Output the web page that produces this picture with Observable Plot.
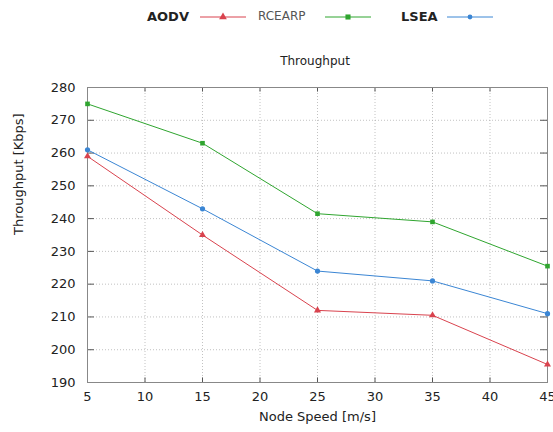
<!DOCTYPE html>
<html>
<head>
<meta charset="utf-8">
<script src="https://cdn.jsdelivr.net/npm/d3@7"></script>
<script src="https://cdn.jsdelivr.net/npm/@observablehq/plot@0.6"></script>
<style>
  html, body { margin: 0; padding: 0; background: #fff; }
  #wrap { position: relative; width: 553px; height: 432px; overflow: hidden; font-family: "DejaVu Sans", sans-serif; }
  #wrap svg { position: absolute; left: 0; top: 0; }
  .lg { position: absolute; top: 9px; font-size: 13px; color: #222; white-space: nowrap; }
  .title { position: absolute; top: 54px; left: 0; width: 630px; text-align: center; font-size: 12px; color: #222; }
</style>
</head>
<body>
<div id="wrap"></div>
<script>
const speeds = [5, 15, 25, 35, 45];
const aodv   = [259, 235, 212, 210.5, 195.5];
const rcearp = [275, 263, 241.5, 239, 225.5];
const lsea   = [261, 243, 224, 221, 211];
const seriesNames = ["AODV", "RCEARP", "LSEA"];
const seriesColors = ["#d9434e", "#2fa52f", "#3b86d4"];
const seriesSymbols = ["triangle", "square", "circle"];
const xTicks = [5, 10, 15, 20, 25, 30, 35, 40, 45];
const yTicks = [190, 200, 210, 220, 230, 240, 250, 260, 270, 280];

const valuesBySeries = [aodv, rcearp, lsea];
const data = [];
seriesNames.forEach((s, i) => speeds.forEach((x, j) => data.push({series: s, speed: x, value: valuesBySeries[i][j]})));

const plot = Plot.plot({
  width: 553,
  height: 432,
  marginLeft: 87,
  marginRight: 6,
  marginTop: 87,
  marginBottom: 50,
  style: {fontFamily: "DejaVu Sans, sans-serif", fontSize: "13px", color: "#222", background: "transparent"},
  x: {domain: [5, 45], ticks: xTicks, label: null},
  y: {domain: [190, 280], ticks: yTicks, label: null},
  color: {domain: seriesNames, range: seriesColors},
  symbol: {domain: seriesNames, range: seriesSymbols},
  marks: [
    Plot.gridX(xTicks, {stroke: "#999", strokeOpacity: 0.6, strokeDasharray: "1,2"}),
    Plot.gridY(yTicks, {stroke: "#999", strokeOpacity: 0.6, strokeDasharray: "1,2"}),
    Plot.ruleX(xTicks, {x: d => d, y1: 190, y2: 191.4, stroke: "#555"}),
    Plot.ruleX(xTicks, {x: d => d, y1: 278.6, y2: 280, stroke: "#555"}),
    Plot.ruleY(yTicks, {y: d => d, x1: 5, x2: 5.6, stroke: "#555"}),
    Plot.ruleY(yTicks, {y: d => d, x1: 44.4, x2: 45, stroke: "#555"}),
    Plot.frame({stroke: "#888"}),
    Plot.axisX(xTicks, {tickSize: 0, tickPadding: 9, fontSize: 13}),
    Plot.axisY(yTicks, {tickSize: 0, tickPadding: 12, fontSize: 13}),
    Plot.line(data, {x: "speed", y: "value", z: "series", stroke: "series", strokeWidth: 1}),
    Plot.dot(data, {x: "speed", y: "value", fill: "series", symbol: "series", r: 2.6, stroke: "none"}),
    Plot.text(["Node Speed [m/s]"], {frameAnchor: "bottom", dy: 38, fontSize: 13, text: d => d}),
    Plot.text(["Throughput [Kbps]"], {frameAnchor: "left", dx: -69, rotate: -90, fontSize: 13, text: d => d})
  ]
});
const wrap = document.getElementById("wrap");
wrap.appendChild(plot);

// Title
const t = document.createElement("div");
t.className = "title";
t.textContent = "Throughput";
wrap.appendChild(t);

// Legend
const legendLayout = [
  {textLeft: 147, lineLeft: 200, bold: true, color: "#222", size: 13},
  {textLeft: 258, lineLeft: 325, bold: false, color: "#555", size: 12},
  {textLeft: 401, lineLeft: 447, bold: true, color: "#222", size: 13}
];
seriesNames.forEach((name, i) => {
  const L = legendLayout[i];
  const d = document.createElement("div");
  d.className = "lg";
  d.style.left = L.textLeft + "px";
  d.style.fontWeight = L.bold ? "bold" : "normal";
  d.style.color = L.color;
  d.style.fontSize = L.size + "px";
  d.textContent = name;
  wrap.appendChild(d);
  const ns = "http://www.w3.org/2000/svg";
  const s = document.createElementNS(ns, "svg");
  s.setAttribute("width", 46); s.setAttribute("height", 10);
  s.style.left = L.lineLeft + "px"; s.style.top = "12px";
  const ln = document.createElementNS(ns, "line");
  ln.setAttribute("x1", 0); ln.setAttribute("x2", 46); ln.setAttribute("y1", 5); ln.setAttribute("y2", 5);
  ln.setAttribute("stroke", seriesColors[i]); ln.setAttribute("stroke-width", 1);
  s.appendChild(ln);
  const sym = d3.symbol().type(i === 0 ? d3.symbolTriangle : i === 1 ? d3.symbolSquare : d3.symbolCircle).size(i === 2 ? 18 : 26)();
  const p = document.createElementNS(ns, "path");
  p.setAttribute("d", sym); p.setAttribute("transform", "translate(23,5)"); p.setAttribute("fill", seriesColors[i]);
  s.appendChild(p);
  wrap.appendChild(s);
});
</script>
</body>
</html>
